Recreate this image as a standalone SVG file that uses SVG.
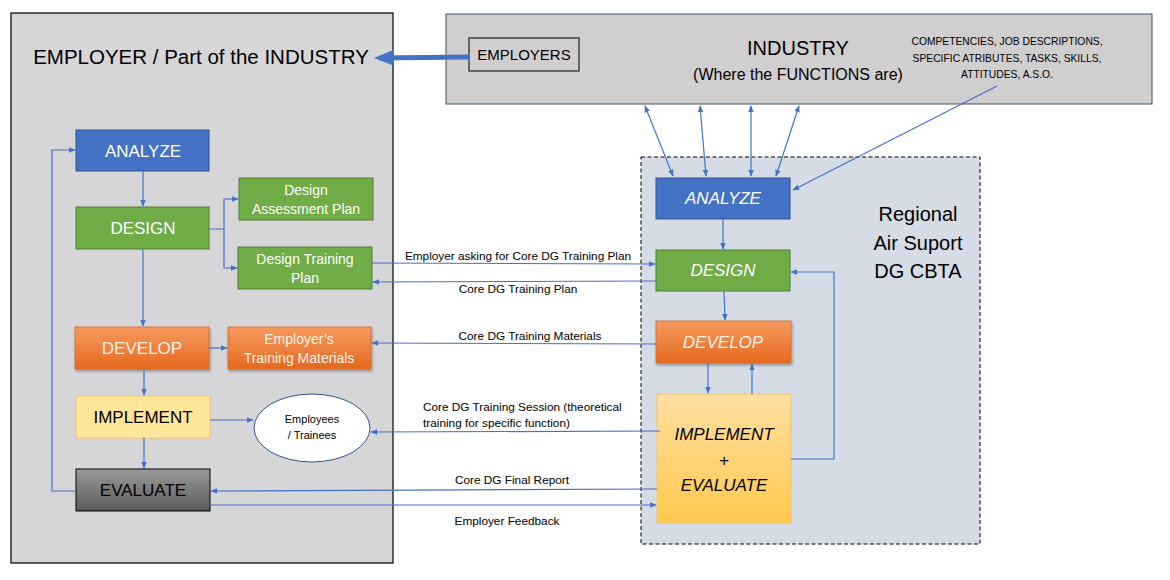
<svg xmlns="http://www.w3.org/2000/svg" width="1170" height="580" viewBox="0 0 1170 580">
<defs>
<marker id="ah" viewBox="0 0 10 10" refX="9" refY="5" markerWidth="7" markerHeight="7" orient="auto-start-reverse" markerUnits="userSpaceOnUse"><path d="M0,1 L10,5 L0,9 z" fill="#4472C4"/></marker>
<marker id="ahb" viewBox="0 0 10 10" refX="7" refY="5" markerWidth="4" markerHeight="4" orient="auto-start-reverse"><path d="M0,1 L10,5 L0,9 z" fill="#4472C4"/></marker>
<linearGradient id="gOr" x1="0" y1="0" x2="0" y2="1"><stop offset="0" stop-color="#F79A5E"/><stop offset="1" stop-color="#E4691E"/></linearGradient>
<linearGradient id="gGr" x1="0" y1="0" x2="0" y2="1"><stop offset="0" stop-color="#9A9A9A"/><stop offset="1" stop-color="#5A5A5A"/></linearGradient>
<linearGradient id="gYe" x1="0" y1="0" x2="0" y2="1"><stop offset="0" stop-color="#FFDFA0"/><stop offset="1" stop-color="#FFC94F"/></linearGradient>
<filter id="sh" x="-10%" y="-10%" width="130%" height="140%"><feDropShadow dx="1" dy="2" stdDeviation="1.5" flood-color="#000" flood-opacity="0.35"/></filter>
<style>
text{font-family:"Liberation Sans",Arial,sans-serif}
.c{fill:none;stroke:#4472C4;stroke-width:1.2}
.lbl{font-size:11.8px;fill:#000;text-anchor:middle}
.nt{font-size:17px;text-anchor:middle;dominant-baseline:central}
.st{font-size:14px;text-anchor:middle}
.w{fill:#fff}
.it{font-style:italic}
.blue{fill:#4472C4;stroke:#2F528F;stroke-width:1}
.green{fill:#70AD47;stroke:#507E32;stroke-width:1}
.orange{fill:url(#gOr);stroke:#D26A2A;stroke-width:0.8;filter:url(#sh)}
</style>
</defs>

<g id="employer-area">
<rect x="11" y="13" width="382" height="550" fill="#D6D5D7" stroke="#000" stroke-width="1.2"/>
<text x="201" y="64" font-size="20.5" text-anchor="middle">EMPLOYER / Part of the INDUSTRY</text>
</g>

<g id="industry">
<rect x="446" y="14" width="706" height="90" fill="#D0CECE" stroke="#44546A" stroke-width="1"/>
<text x="798" y="55" font-size="20" text-anchor="middle">INDUSTRY</text>
<text x="798" y="80" font-size="16" text-anchor="middle">(Where the FUNCTIONS are)</text>
<text x="1007" y="45" font-size="10.3" text-anchor="middle">COMPETENCIES,  JOB DESCRIPTIONS,</text>
<text x="1007" y="62" font-size="10.3" text-anchor="middle">SPECIFIC ATRIBUTES,  TASKS, SKILLS,</text>
<text x="1007" y="78" font-size="10.3" text-anchor="middle">ATTITUDES,  A.S.O.</text>
</g>

<g id="employers">
<rect x="469" y="38" width="110" height="33" fill="#D0CECE" stroke="#000" stroke-width="1"/>
<text x="524" y="60" font-size="15" text-anchor="middle">EMPLOYERS</text>
</g>

<g id="regional">
<rect x="641" y="157" width="339" height="387" fill="#D6DCE5" stroke="#000" stroke-width="1" stroke-dasharray="4,2.5"/>
<text x="918" y="221" font-size="20" text-anchor="middle">Regional</text>
<text x="918" y="250" font-size="20" text-anchor="middle">Air Suport</text>
<text x="918" y="278" font-size="20" text-anchor="middle">DG CBTA</text>
</g>

<g id="l-analyze"><rect class="blue" x="76" y="130" width="133" height="41"/><text class="nt w" x="143" y="151">ANALYZE</text></g>
<g id="l-design"><rect class="green" x="76" y="207" width="133" height="42"/><text class="nt w" x="143" y="228">DESIGN</text></g>
<g id="l-assess"><rect class="green" x="239" y="178" width="134" height="42"/><text class="st w" x="306" y="195">Design</text><text class="st w" x="306" y="214">Assessment Plan</text></g>
<g id="l-trainplan"><rect class="green" x="238" y="247" width="134" height="42"/><text class="st w" x="305" y="264">Design Training</text><text class="st w" x="305" y="283">Plan</text></g>
<g id="l-develop"><rect class="orange" x="75" y="327" width="134" height="42"/><text class="nt" x="142" y="348" fill="#FFF2E6">DEVELOP</text></g>
<g id="l-materials"><rect class="orange" x="228" y="327" width="143" height="42"/><text class="st" x="299" y="344" fill="#FFF2E6">Employer’s</text><text class="st" x="299" y="363" fill="#FFF2E6">Training Materials</text></g>
<g id="l-implement"><rect x="76" y="396" width="134" height="42" fill="#FFE699" stroke="#F4C46A" stroke-width="1"/><text class="nt" x="143" y="417">IMPLEMENT</text></g>
<g id="l-trainees"><ellipse cx="312" cy="428" rx="58" ry="34" fill="#fff" stroke="#2F528F" stroke-width="1"/><text x="312" y="423" font-size="11" text-anchor="middle">Employees</text><text x="312" y="439" font-size="11" text-anchor="middle">/ Trainees</text></g>
<g id="l-evaluate"><rect x="76" y="469" width="134" height="42" fill="url(#gGr)" stroke="#000" stroke-width="1"/><text class="nt" x="143" y="490">EVALUATE</text></g>

<g id="r-analyze"><rect class="blue" x="656" y="178" width="134" height="41"/><text class="nt w it" x="723" y="198">ANALYZE</text></g>
<g id="r-design"><rect class="green" x="656" y="250" width="134" height="41"/><text class="nt w it" x="723" y="270">DESIGN</text></g>
<g id="r-develop"><rect class="orange" x="656" y="321" width="135" height="42"/><text class="nt it" x="723" y="342" fill="#FFF2E6">DEVELOP</text></g>
<g id="r-impeval"><rect x="657" y="394" width="134" height="129" fill="url(#gYe)" stroke="#F4C46A" stroke-width="1"/><text class="nt it" x="724" y="434">IMPLEMENT</text><text class="nt it" x="724" y="460">+</text><text class="nt it" x="724" y="485">EVALUATE</text></g>

<g id="connectors">
<line x1="469" y1="57" x2="380" y2="58" stroke="#4472C4" stroke-width="5" marker-end="url(#ahb)"/>
<line class="c" x1="143" y1="171" x2="143" y2="206" marker-end="url(#ah)"/>
<polyline class="c" points="209,229 224,229 224,199 238,199" marker-end="url(#ah)"/>
<polyline class="c" points="224,229 224,268 237,268" marker-end="url(#ah)"/>
<line class="c" x1="143" y1="249" x2="143" y2="326" marker-end="url(#ah)"/>
<line class="c" x1="209" y1="348" x2="227" y2="348" marker-end="url(#ah)"/>
<line class="c" x1="144" y1="369" x2="144" y2="395" marker-end="url(#ah)"/>
<line class="c" x1="210" y1="420" x2="253" y2="420" marker-end="url(#ah)"/>
<line class="c" x1="144" y1="438" x2="144" y2="468" marker-end="url(#ah)"/>
<polyline class="c" points="76,491 52,491 52,150 75,150" marker-end="url(#ah)"/>

<line class="c" x1="645" y1="106" x2="673" y2="176" marker-start="url(#ah)" marker-end="url(#ah)"/>
<line class="c" x1="700" y1="106" x2="706" y2="176" marker-start="url(#ah)" marker-end="url(#ah)"/>
<line class="c" x1="751" y1="106" x2="751" y2="176" marker-start="url(#ah)" marker-end="url(#ah)"/>
<line class="c" x1="799" y1="106" x2="776" y2="176" marker-start="url(#ah)" marker-end="url(#ah)"/>
<line class="c" x1="997" y1="86" x2="793" y2="190" marker-end="url(#ah)"/>

<line class="c" x1="723" y1="219" x2="723" y2="249" marker-end="url(#ah)"/>
<line class="c" x1="724" y1="291" x2="725" y2="320" marker-end="url(#ah)"/>
<line class="c" x1="708" y1="363" x2="708" y2="393" marker-end="url(#ah)"/>
<line class="c" x1="752" y1="394" x2="752" y2="364" marker-end="url(#ah)"/>
<polyline class="c" points="791,459 834,459 834,272 791,272" marker-end="url(#ah)"/>

<line class="c" x1="372" y1="263" x2="655" y2="264" marker-end="url(#ah)"/>
<line class="c" x1="656" y1="281" x2="373" y2="282" marker-end="url(#ah)"/>
<line class="c" x1="656" y1="344" x2="372" y2="343" marker-end="url(#ah)"/>
<line class="c" x1="660" y1="431" x2="371" y2="432" marker-end="url(#ah)"/>
<line class="c" x1="657" y1="489" x2="211" y2="491" marker-end="url(#ah)"/>
<line class="c" x1="210" y1="505" x2="656" y2="505" marker-end="url(#ah)"/>
</g>

<g id="labels">
<text class="lbl" x="518" y="260">Employer asking for Core DG Training Plan</text>
<text class="lbl" x="518" y="293">Core DG Training Plan</text>
<text class="lbl" x="530" y="340">Core DG Training Materials</text>
<text x="423" y="411" font-size="11.8">Core DG Training Session (theoretical</text>
<text x="423" y="427" font-size="11.8">training for specific function)</text>
<text class="lbl" x="512" y="484">Core DG Final Report</text>
<text class="lbl" x="507" y="525">Employer Feedback</text>
</g>
</svg>
